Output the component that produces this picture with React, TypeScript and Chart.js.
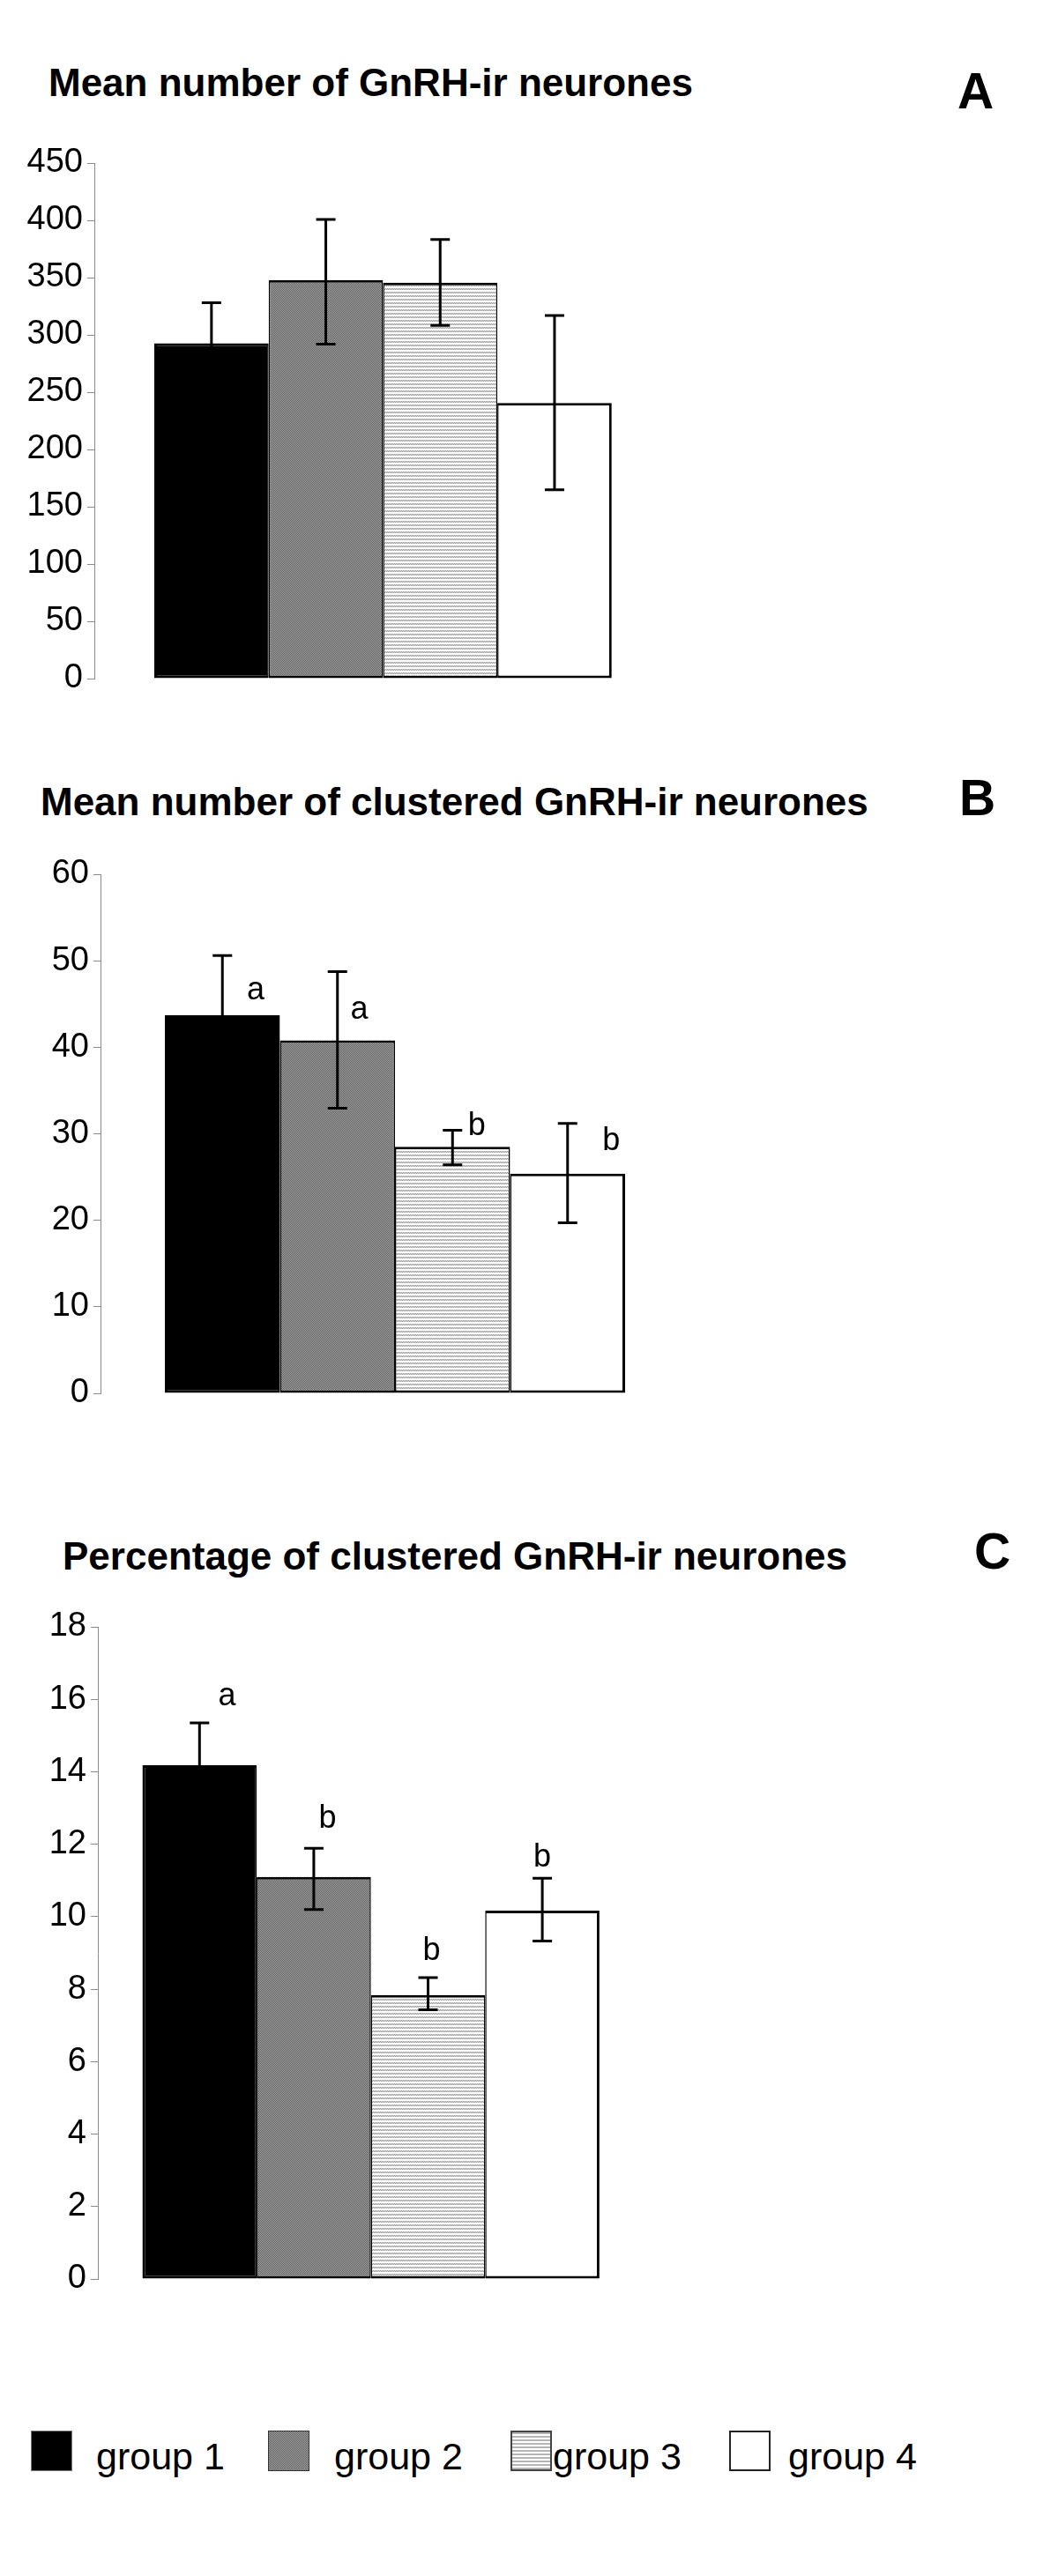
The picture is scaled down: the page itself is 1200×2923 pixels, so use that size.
import React, { useEffect, useRef } from 'react';
import { Chart, registerables } from 'chart.js';

Chart.register(...registerables);

// ---------- data ----------
const categories = ['group 1', 'group 2', 'group 3', 'group 4'];

const titleA = 'Mean number of GnRH-ir neurones';
const yTicksA = [0, 50, 100, 150, 200, 250, 300, 350, 400, 450];
const meanA = [292.7, 347.9, 345.6, 240.5];
const errHighA = [328, 400.8, 383.3, 317];
const errLowA = [257, 291.9, 308.3, 164.8];
const lettersA: string[] = ['', '', '', ''];
const letterValueA = [0, 0, 0, 0];
const letterShiftA = [0, 0, 0, 0];

const titleB = 'Mean number of clustered GnRH-ir neurones';
const yTicksB = [0, 10, 20, 30, 40, 50, 60];
const meanB = [43.7, 40.8, 28.5, 25.4];
const errHighB = [50.6, 48.75, 30.4, 31.2];
const errLowB = [36.8, 32.95, 26.4, 19.7];
const lettersB = ['a', 'a', 'b', 'b'];
const letterValueB = [46.55, 44.3, 30.9, 29.1];
const letterShiftB = [0.29, 0.19, 0.21, 0.38];

const titleC = 'Percentage of clustered GnRH-ir neurones';
const yTicksC = [0, 2, 4, 6, 8, 10, 12, 14, 16, 18];
const meanC = [14.18, 11.1, 7.84, 10.17];
const errHighC = [15.35, 11.89, 8.32, 11.06];
const errLowC = [13.0, 10.2, 7.43, 9.33];
const lettersC = ['a', 'b', 'b', 'b'];
const letterValueC = [16.07, 12.69, 9.04, 11.62];
const letterShiftC = [0.24, 0.12, 0.03, 0.0];

const panelLetters = ['A', 'B', 'C'];

// ---------- layout ----------
const FONT = '"Liberation Sans", Arial, Helvetica, sans-serif';
const CANVAS_W = 900;
const PAD_V = 30;

type Panel = {
  title: string;
  letter: string;
  ticks: number[];
  mean: number[];
  hi: number[];
  lo: number[];
  letters: string[];
  letterValue: number[];
  letterShift: number[];
  axisX: number;
  barLeft: number;
  barUnit: number;
  plotTop: number;
  plotBottom: number;
  titleLeft: number;
  titleTop: number;
  letterLeft: number;
  letterTop: number;
};

const panels: Panel[] = [
  {
    title: titleA, letter: panelLetters[0], ticks: yTicksA, mean: meanA, hi: errHighA, lo: errLowA,
    letters: lettersA, letterValue: letterValueA, letterShift: letterShiftA,
    axisX: 107, barLeft: 175, barUnit: 129.7, plotTop: 185, plotBottom: 770,
    titleLeft: 55, titleTop: 72, letterLeft: 1086, letterTop: 75,
  },
  {
    title: titleB, letter: panelLetters[1], ticks: yTicksB, mean: meanB, hi: errHighB, lo: errLowB,
    letters: lettersB, letterValue: letterValueB, letterShift: letterShiftB,
    axisX: 114, barLeft: 187, barUnit: 130.5, plotTop: 992, plotBottom: 1581,
    titleLeft: 46, titleTop: 888, letterLeft: 1088, letterTop: 877,
  },
  {
    title: titleC, letter: panelLetters[2], ticks: yTicksC, mean: meanC, hi: errHighC, lo: errLowC,
    letters: lettersC, letterValue: letterValueC, letterShift: letterShiftC,
    axisX: 111, barLeft: 161.5, barUnit: 129.6, plotTop: 1846, plotBottom: 2586,
    titleLeft: 71, titleTop: 1744, letterLeft: 1105, letterTop: 1732,
  },
];

function makePatterns(ctx: CanvasRenderingContext2D) {
  const dots = document.createElement('canvas');
  dots.width = 4; dots.height = 4;
  const d = dots.getContext('2d')!;
  for (let y = 0; y < 4; y++) for (let x = 0; x < 4; x++) {
    d.fillStyle = (x + y) % 2 ? '#a6a6a6' : '#5c5c5c';
    d.fillRect(x, y, 1, 1);
  }
  const lines = document.createElement('canvas');
  lines.width = 4; lines.height = 4;
  const l = lines.getContext('2d')!;
  l.fillStyle = '#ffffff';
  l.fillRect(0, 0, 4, 4);
  for (let y = 0; y < 2; y++) for (let x = 0; x < 4; x++) {
    l.fillStyle = (x + y) % 2 ? '#9a9a9a' : '#dcdcdc';
    l.fillRect(x, y, 1, 1);
  }
  return {
    dots: ctx.createPattern(dots, 'repeat')!,
    lines: ctx.createPattern(lines, 'repeat')!,
  };
}

function makeErrorPlugin(p: Panel) {
  return {
    id: 'errorBarsAndLetters',
    afterDatasetsDraw(chart: any) {
      const { ctx } = chart;
      const xs = chart.scales.x;
      const ys = chart.scales.y;
      const cap = 22;
      ctx.save();
      ctx.strokeStyle = '#000';
      ctx.lineWidth = 3;
      ctx.lineCap = 'butt';
      p.hi.forEach((h, i) => {
        const px = xs.getPixelForValue(i);
        const yh = ys.getPixelForValue(h);
        const yl = ys.getPixelForValue(p.lo[i]);
        ctx.beginPath();
        ctx.moveTo(px, yh);
        ctx.lineTo(px, yl);
        ctx.moveTo(px - cap / 2, yh);
        ctx.lineTo(px + cap / 2, yh);
        ctx.moveTo(px - cap / 2, yl);
        ctx.lineTo(px + cap / 2, yl);
        ctx.stroke();
      });
      ctx.fillStyle = '#000';
      ctx.font = `36px ${FONT}`;
      ctx.textAlign = 'center';
      ctx.textBaseline = 'middle';
      p.letters.forEach((t, i) => {
        if (!t) return;
        ctx.fillText(t, xs.getPixelForValue(i + p.letterShift[i]), ys.getPixelForValue(p.letterValue[i]));
      });
      ctx.restore();
    },
  };
}

function PanelChart({ p }: { p: Panel }) {
  const ref = useRef<HTMLCanvasElement | null>(null);
  const height = p.plotBottom - p.plotTop + 2 * PAD_V;
  useEffect(() => {
    const canvas = ref.current!;
    const ctx = canvas.getContext('2d')!;
    const pats = makePatterns(ctx);
    const fills = ['#000000', pats.dots, pats.lines, '#ffffff'];
    const xMin = -0.5 - (p.barLeft - p.axisX) / p.barUnit;
    const xMax = 4.5;
    const right = p.barLeft + 5 * p.barUnit;
    const forceRange = (s: any) => {
      s.min = xMin;
      s.max = xMax;
    };
    const chart = new Chart(canvas, {
      type: 'bar',
      data: {
        labels: categories,
        datasets: [
          {
            label: 'mean',
            data: p.mean.map((v, i) => ({ x: i, y: v })) as any,
            backgroundColor: fills as any,
            borderColor: '#000',
            borderWidth: ((c: any) => ({
              top: 3,
              bottom: 3,
              left: c.dataIndex === 0 ? 3 : 1.5,
              right: c.dataIndex === 3 ? 3 : 1.5,
            })) as any,
            borderSkipped: false,
            barPercentage: 1,
            categoryPercentage: 1,
            barThickness: p.barUnit,
            inflateAmount: 0,
          } as any,
        ],
      },
      options: {
        responsive: false,
        animation: false,
        devicePixelRatio: 1,
        events: [],
        layout: { padding: { top: PAD_V, bottom: PAD_V, left: 0, right: CANVAS_W - right } },
        plugins: { legend: { display: false }, tooltip: { enabled: false } },
        scales: {
          x: {
            type: 'linear',
            min: xMin,
            max: xMax,
            bounds: 'data',
            offset: false,
            grace: 0,
            display: false,
            grid: { offset: false },
            afterDataLimits: forceRange,
            afterBuildTicks: (s: any) => {
              s.ticks = categories.map((_, i) => ({ value: i }));
              forceRange(s);
            },
          },
          y: {
            type: 'linear',
            position: 'left',
            min: p.ticks[0],
            max: p.ticks[p.ticks.length - 1],
            bounds: 'data',
            afterBuildTicks: (s: any) => {
              s.ticks = p.ticks.map((v) => ({ value: v }));
            },
            afterFit: (s: any) => {
              s.width = p.axisX;
            },
            border: { display: true, color: '#8a8a8a', width: 1 },
            grid: { drawOnChartArea: false, drawTicks: true, tickLength: 8, color: '#8a8a8a', lineWidth: 1 },
            ticks: {
              color: '#000',
              padding: 5,
              autoSkip: false,
              font: { family: FONT, size: 38 },
            },
          },
        } as any,
      },
      plugins: [makeErrorPlugin(p)],
    });
    return () => chart.destroy();
  }, [p]);
  return (
    <canvas
      ref={ref}
      width={CANVAS_W}
      height={height}
      style={{ position: 'absolute', left: 0, top: p.plotTop - PAD_V, width: CANVAS_W, height }}
    />
  );
}

const legendSwatchX = [35, 304, 579, 827];
const legendTextX = [109, 379, 627, 894];
const legendSwatchStyles: React.CSSProperties[] = [
  { background: '#000', border: '1px solid #777' },
  {
    backgroundColor: '#808080',
    backgroundImage: 'repeating-conic-gradient(#5c5c5c 0 25%, #a6a6a6 0 50%)',
    backgroundSize: '2px 2px',
    border: '1px solid #333',
  },
  {
    backgroundColor: '#fff',
    backgroundImage: 'repeating-linear-gradient(to bottom, #b4b4b4 0px, #b4b4b4 2px, #ffffff 2px, #ffffff 4px)',
    border: '2px solid #444',
  },
  { background: '#fff', border: '2px solid #222' },
];

export default function App() {
  return (
    <div
      style={{
        position: 'absolute',
        left: 0,
        top: 0,
        width: 1200,
        height: 2923,
        background: '#fff',
        fontFamily: FONT,
        color: '#000',
        overflow: 'hidden',
      }}
    >
      {panels.map((p, k) => (
        <React.Fragment key={k}>
          <div
            style={{
              position: 'absolute', left: p.titleLeft, top: p.titleTop,
              fontSize: 44, fontWeight: 'bold', lineHeight: 1, whiteSpace: 'nowrap',
            }}
          >
            {p.title}
          </div>
          <div
            style={{
              position: 'absolute', left: p.letterLeft, top: p.letterTop,
              fontSize: 57, fontWeight: 'bold', lineHeight: 1,
            }}
          >
            {p.letter}
          </div>
          <PanelChart p={p} />
        </React.Fragment>
      ))}
      {categories.map((c, i) => (
        <React.Fragment key={c}>
          <div
            style={{
              position: 'absolute', left: legendSwatchX[i], top: 2758, width: 47, height: 46,
              boxSizing: 'border-box', ...legendSwatchStyles[i],
            }}
          />
          <div
            style={{
              position: 'absolute', left: legendTextX[i], top: 2766, fontSize: 43, lineHeight: 1,
              whiteSpace: 'nowrap',
            }}
          >
            {c}
          </div>
        </React.Fragment>
      ))}
    </div>
  );
}
